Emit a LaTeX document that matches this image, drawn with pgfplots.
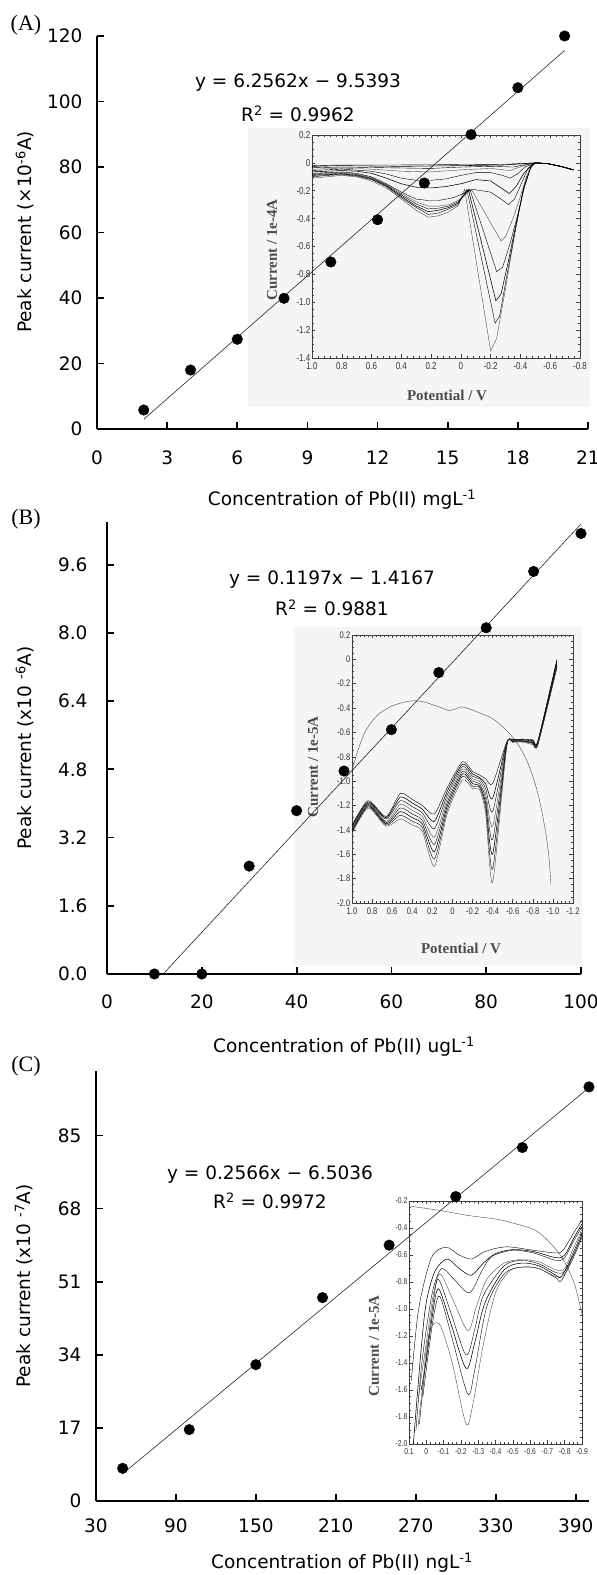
\documentclass[border=0pt]{standalone}
\usepackage{pgfplots}
\pgfplotsset{compat=1.18}
\usepackage{fontspec}
\setmainfont{DejaVu Sans}
\newfontfamily\tnr{Liberation Serif}
\newfontfamily\nar[FakeStretch=0.8]{Liberation Sans}

\pgfplotsset{
  mainax/.style={
    scale only axis, anchor=south west, clip=false,
    axis x line=bottom, axis y line=left,
    axis line style={-, line width=2.2pt},
    tick align=inside, major tick length=7pt,
    tick style={black, line width=1.8pt},
    tick label style={font=\fontsize{18.5}{20}\selectfont},
    /pgf/number format/assume math mode=true,
  },
  inset/.style={
    scale only axis, anchor=south west, x dir=reverse,
    axis line style={black!75, line width=0.6pt},
    tick align=inside, major tick length=3.5pt, minor tick length=2pt,
    tick style={black!75, line width=0.5pt},
    xtick pos=both, ytick pos=both, xticklabel pos=lower, yticklabel pos=left,
    tick label style={font=\nar\fontsize{10}{11}\selectfont, text=black!80, inner sep=1.5pt},
    xticklabel style={yshift=-3pt},
    minor x tick num=4, minor y tick num=3,
    cycle list={{black!70, solid, line width=0.55pt, no marks}},
  },
  pts/.style={only marks, mark=*, mark size=5.3pt, black},
  fit/.style={black!85, line width=0.6pt, no marks},
}
\newcommand\lab{\fontsize{18.5}{20}\selectfont}
\newcommand\ilab{\tnr\bfseries\fontsize{15}{16}\selectfont\color{black!70}}

\begin{document}
\begin{tikzpicture}[x=1pt,y=1pt]
\path[use as bounding box] (0,0) rectangle (597,1575);
\fill[black!4] (248,1168) rectangle (590,1447);
\fill[black!4] (294,610) rectangle (582,948);

% ---------- inset A
\begin{axis}[inset, at={(312pt,1217pt)}, width=268pt, height=223pt,
  xmin=-0.8, xmax=1.0, ymin=-1.4, ymax=0.2,
  xtick={-0.8,-0.6,-0.4,-0.2,0,0.2,0.4,0.6,0.8,1.0},
  xticklabels={-0.8,-0.6,-0.4,-0.2,0,0.2,0.4,0.6,0.8,1.0},
  ytick={-1.4,-1.2,-1.0,-0.8,-0.6,-0.4,-0.2,0,0.2},
  yticklabels={-1.4,-1.2,-1.0,-0.8,-0.6,-0.4,-0.2,0,0.2}]
\addplot coordinates {(1.0,-0.11)(0.9,-0.10)(0.8,-0.09)(0.7,-0.10)(0.6,-0.13)(0.5,-0.18)(0.4,-0.26)(0.3,-0.34)(0.22,-0.39)(0.15,-0.38)(0.08,-0.35)(0.02,-0.31)(-0.025,-0.19)(-0.2,-1.35)(-0.24,-1.26)(-0.3,-0.90)(-0.36,-0.52)(-0.42,-0.18)(-0.46,-0.04)(-0.5,0.0)(-0.58,-0.005)(-0.67,-0.025)(-0.755,-0.05)};
\addplot coordinates {(1.0,-0.10)(0.9,-0.09)(0.8,-0.085)(0.7,-0.095)(0.6,-0.12)(0.5,-0.17)(0.4,-0.25)(0.3,-0.32)(0.22,-0.37)(0.15,-0.36)(0.08,-0.33)(0.02,-0.30)(-0.04,-0.19)(-0.23,-1.15)(-0.26,-1.10)(-0.31,-0.80)(-0.37,-0.46)(-0.42,-0.19)(-0.47,-0.03)(-0.5,0.0)(-0.58,-0.005)(-0.67,-0.025)(-0.755,-0.05)};
\addplot coordinates {(1.0,-0.09)(0.9,-0.085)(0.8,-0.08)(0.7,-0.09)(0.6,-0.115)(0.5,-0.165)(0.4,-0.24)(0.3,-0.31)(0.22,-0.35)(0.15,-0.34)(0.08,-0.32)(0.02,-0.29)(-0.05,-0.19)(-0.235,-0.99)(-0.27,-0.94)(-0.32,-0.70)(-0.37,-0.44)(-0.42,-0.19)(-0.47,-0.03)(-0.5,0.0)(-0.58,-0.005)(-0.67,-0.025)(-0.755,-0.05)};
\addplot coordinates {(1.0,-0.085)(0.9,-0.08)(0.8,-0.075)(0.7,-0.085)(0.6,-0.11)(0.5,-0.16)(0.4,-0.23)(0.3,-0.295)(0.22,-0.33)(0.15,-0.325)(0.08,-0.31)(0.02,-0.28)(-0.06,-0.19)(-0.24,-0.78)(-0.28,-0.75)(-0.33,-0.58)(-0.38,-0.38)(-0.43,-0.16)(-0.47,-0.03)(-0.5,0.0)(-0.58,-0.005)(-0.67,-0.025)(-0.755,-0.05)};
\addplot coordinates {(1.0,-0.08)(0.9,-0.075)(0.8,-0.07)(0.7,-0.08)(0.6,-0.105)(0.5,-0.155)(0.4,-0.22)(0.3,-0.28)(0.22,-0.31)(0.15,-0.31)(0.08,-0.30)(0.02,-0.27)(-0.07,-0.19)(-0.27,-0.56)(-0.30,-0.53)(-0.35,-0.40)(-0.40,-0.24)(-0.44,-0.10)(-0.48,-0.02)(-0.5,0.0)(-0.58,-0.005)(-0.67,-0.025)(-0.755,-0.05)};
\addplot coordinates {(1.0,-0.075)(0.9,-0.07)(0.8,-0.065)(0.7,-0.075)(0.6,-0.10)(0.5,-0.15)(0.4,-0.21)(0.3,-0.26)(0.22,-0.27)(0.15,-0.27)(0.05,-0.25)(-0.08,-0.19)(-0.2,-0.21)(-0.27,-0.26)(-0.32,-0.30)(-0.36,-0.26)(-0.41,-0.14)(-0.45,-0.04)(-0.5,0.0)(-0.58,-0.005)(-0.67,-0.025)(-0.755,-0.05)};
\addplot coordinates {(1.0,-0.065)(0.9,-0.06)(0.8,-0.055)(0.7,-0.06)(0.6,-0.075)(0.5,-0.11)(0.4,-0.15)(0.3,-0.175)(0.2,-0.18)(0.1,-0.17)(0.0,-0.15)(-0.1,-0.12)(-0.2,-0.13)(-0.27,-0.18)(-0.325,-0.22)(-0.37,-0.17)(-0.42,-0.08)(-0.47,-0.02)(-0.5,0.0)(-0.58,-0.005)(-0.67,-0.025)(-0.755,-0.05)};
\addplot coordinates {(1.0,-0.055)(0.9,-0.05)(0.8,-0.045)(0.6,-0.06)(0.5,-0.08)(0.4,-0.11)(0.3,-0.125)(0.2,-0.125)(0.1,-0.115)(0.0,-0.09)(-0.1,-0.07)(-0.2,-0.07)(-0.28,-0.09)(-0.33,-0.11)(-0.38,-0.08)(-0.43,-0.03)(-0.5,0.0)(-0.58,-0.005)(-0.67,-0.025)(-0.755,-0.05)};
\addplot coordinates {(1.0,-0.045)(0.8,-0.04)(0.6,-0.045)(0.4,-0.06)(0.2,-0.065)(0.0,-0.05)(-0.2,-0.04)(-0.33,-0.055)(-0.42,-0.02)(-0.5,0.0)(-0.58,-0.005)(-0.67,-0.025)(-0.755,-0.05)};
\addplot coordinates {(1.0,-0.035)(0.8,-0.03)(0.5,-0.035)(0.2,-0.04)(0.0,-0.03)(-0.2,-0.025)(-0.35,-0.03)(-0.45,-0.01)(-0.5,0.0)(-0.58,-0.005)(-0.67,-0.025)(-0.755,-0.05)};
\addplot coordinates {(1.0,-0.025)(0.8,-0.02)(0.4,-0.025)(0.0,-0.02)(-0.3,-0.015)(-0.5,0.0)(-0.58,-0.005)(-0.67,-0.025)(-0.755,-0.05)};
\addplot coordinates {(1.0,-0.02)(0.8,-0.015)(0.4,-0.015)(0.0,-0.012)(-0.3,-0.01)(-0.5,0.0)(-0.58,-0.005)(-0.67,-0.025)(-0.755,-0.05)};
\end{axis}
\node[rotate=90] at (272,1325) {\ilab Current / 1e-4A};
\node at (447,1180) {\ilab Potential / V};

% ---------- main A
\begin{axis}[mainax, at={(97pt,1146pt)}, width=491pt, height=393pt,
  xmin=0, xmax=21, ymin=0, ymax=120,
  xtick={0,3,...,21}, ytick={0,20,...,120},
  xticklabel style={yshift=-18pt}, yticklabel style={xshift=-11pt}]
\addplot[fit] coordinates {(2,2.97)(20,115.59)};
\addplot[pts] coordinates {(2,5.8)(4,18.0)(6,27.4)(8,39.9)(10,51.0)(12,63.9)(14,75.1)(16,89.9)(18,104.2)(20,120.0)};
\end{axis}
\node at (26,1550) {\tnr\fontsize{22}{24}\selectfont (A)};
\node at (298,1492) {\lab y = 6.2562x − 9.5393};
\node at (298,1461) {\lab R\textsuperscript{2} = 0.9962};
\node[rotate=90] at (25,1343) {\lab Peak current (×10\textsuperscript{-6}A)};
\node at (342,1075) {\lab Concentration of Pb(II) mgL\textsuperscript{-1}};

% ---------- inset B
\begin{axis}[inset, at={(352pt,672pt)}, width=221pt, height=268pt,
  xmin=-1.2, xmax=1.0, ymin=-2.0, ymax=0.2,
  xtick={-1.2,-1.0,-0.8,-0.6,-0.4,-0.2,0,0.2,0.4,0.6,0.8,1.0},
  xticklabels={-1.2,-1.0,-0.8,-0.6,-0.4,-0.2,0,0.2,0.4,0.6,0.8,1.0},
  ytick={-2.0,-1.8,-1.6,-1.4,-1.2,-1.0,-0.8,-0.6,-0.4,-0.2,0,0.2},
  yticklabels={-2.0,-1.8,-1.6,-1.4,-1.2,-1.0,-0.8,-0.6,-0.4,-0.2,0,0.2},
  tick label style={font=\nar\fontsize{9.5}{10}\selectfont},
  every axis plot/.append style={smooth, tension=0.4}]
\addplot coordinates {(1.0,-0.91)(0.93,-0.72)(0.86,-0.58)(0.75,-0.46)(0.62,-0.39)(0.5,-0.355)(0.39,-0.34)(0.28,-0.35)(0.19,-0.375)(0.1,-0.40)(0.04,-0.42)(-0.02,-0.41)(-0.09,-0.39)(-0.18,-0.41)(-0.27,-0.44)(-0.36,-0.47)(-0.44,-0.51)(-0.52,-0.57)(-0.6,-0.64)(-0.67,-0.72)(-0.74,-0.83)(-0.8,-0.96)(-0.85,-1.10)(-0.89,-1.25)(-0.93,-1.43)(-0.96,-1.62)(-0.98,-1.84)};
\addplot coordinates {(1.0,-1.36)(0.84,-1.16)(0.66,-1.29)(0.52,-1.10)(0.4,-1.15)(0.3,-1.20)(0.18,-1.27)(0.05,-1.05)(-0.1,-0.84)(-0.2,-0.92)(-0.27,-0.95)(-0.33,-0.98)(-0.4,-1.02)(-0.54,-0.68)(-0.6,-0.66)(-0.7,-0.655)(-0.8,-0.66)(-0.85,-0.67)(-1.04,0.0)};
\addplot coordinates {(1.0,-1.37)(0.84,-1.17)(0.66,-1.30)(0.52,-1.13)(0.4,-1.18)(0.3,-1.23)(0.18,-1.33)(0.05,-1.08)(-0.1,-0.86)(-0.2,-0.94)(-0.27,-0.97)(-0.33,-1.02)(-0.4,-1.14)(-0.54,-0.685)(-0.6,-0.66)(-0.7,-0.66)(-0.8,-0.665)(-0.85,-0.675)(-1.04,-0.01)};
\addplot coordinates {(1.0,-1.38)(0.84,-1.18)(0.66,-1.31)(0.52,-1.16)(0.4,-1.21)(0.3,-1.26)(0.18,-1.39)(0.05,-1.11)(-0.1,-0.88)(-0.2,-0.96)(-0.27,-0.98)(-0.33,-1.06)(-0.4,-1.25)(-0.54,-0.69)(-0.6,-0.665)(-0.7,-0.66)(-0.8,-0.67)(-0.85,-0.68)(-1.04,-0.02)};
\addplot coordinates {(1.0,-1.39)(0.84,-1.18)(0.66,-1.33)(0.52,-1.19)(0.4,-1.24)(0.3,-1.29)(0.18,-1.46)(0.05,-1.14)(-0.1,-0.90)(-0.2,-0.98)(-0.27,-1.00)(-0.33,-1.10)(-0.4,-1.37)(-0.54,-0.695)(-0.6,-0.67)(-0.7,-0.665)(-0.8,-0.675)(-0.85,-0.685)(-1.04,-0.03)};
\addplot coordinates {(1.0,-1.40)(0.84,-1.19)(0.66,-1.34)(0.52,-1.22)(0.4,-1.27)(0.3,-1.32)(0.18,-1.52)(0.05,-1.17)(-0.1,-0.92)(-0.2,-1.00)(-0.27,-1.02)(-0.33,-1.14)(-0.4,-1.48)(-0.54,-0.70)(-0.6,-0.67)(-0.7,-0.67)(-0.8,-0.68)(-0.85,-0.69)(-1.04,-0.04)};
\addplot coordinates {(1.0,-1.41)(0.84,-1.20)(0.66,-1.35)(0.52,-1.25)(0.4,-1.30)(0.3,-1.35)(0.18,-1.58)(0.05,-1.20)(-0.1,-0.94)(-0.2,-1.02)(-0.27,-1.04)(-0.33,-1.18)(-0.4,-1.60)(-0.54,-0.705)(-0.6,-0.675)(-0.7,-0.67)(-0.8,-0.685)(-0.85,-0.695)(-1.04,-0.05)};
\addplot coordinates {(1.0,-1.42)(0.84,-1.21)(0.66,-1.36)(0.52,-1.28)(0.4,-1.33)(0.3,-1.38)(0.18,-1.64)(0.05,-1.23)(-0.1,-0.96)(-0.2,-1.04)(-0.27,-1.05)(-0.33,-1.22)(-0.4,-1.72)(-0.54,-0.71)(-0.6,-0.68)(-0.7,-0.675)(-0.8,-0.69)(-0.85,-0.70)(-1.04,-0.06)};
\addplot coordinates {(1.0,-1.43)(0.84,-1.22)(0.66,-1.37)(0.52,-1.31)(0.4,-1.36)(0.3,-1.41)(0.18,-1.70)(0.05,-1.26)(-0.1,-0.99)(-0.2,-1.06)(-0.27,-1.07)(-0.33,-1.26)(-0.4,-1.83)(-0.54,-0.715)(-0.6,-0.68)(-0.7,-0.68)(-0.8,-0.70)(-0.85,-0.70)(-1.04,-0.07)};
\end{axis}
\node[rotate=90] at (313,808) {\ilab Current / 1e-5A};
\node at (461,627) {\ilab Potential / V};

% ---------- main B
\begin{axis}[mainax, at={(107pt,601pt)}, width=474pt, height=452pt,
  xmin=0, xmax=100, ymin=0, ymax=10.6,
  xtick={0,20,...,100}, ytick={0,1.6,3.2,4.8,6.4,8.0,9.6},
  yticklabels={0.0,1.6,3.2,4.8,6.4,8.0,9.6},
  xticklabel style={yshift=-17pt}, yticklabel style={xshift=-16pt}]
\addplot[fit] coordinates {(11.84,0)(100,10.553)};
\addplot[pts] coordinates {(10,0)(20,0)(30,2.53)(40,3.83)(50,4.76)(60,5.73)(70,7.07)(80,8.12)(90,9.44)(100,10.33)};
\end{axis}
\node at (26,1056) {\tnr\fontsize{22}{24}\selectfont (B)};
\node at (332,995) {\lab y = 0.1197x − 1.4167};
\node at (332,967) {\lab R\textsuperscript{2} = 0.9881};
\node[rotate=90] at (25,827) {\lab Peak current (x10 \textsuperscript{-6}A)};
\node at (344,528) {\lab Concentration of Pb(II) ugL\textsuperscript{-1}};

% ---------- inset C
\begin{axis}[inset, at={(409pt,131pt)}, width=173pt, height=243pt,
  xmin=-0.9, xmax=0.1, ymin=-2.0, ymax=-0.2,
  xtick={-0.9,-0.8,-0.7,-0.6,-0.5,-0.4,-0.3,-0.2,-0.1,0,0.1},
  xticklabels={-0.9,-0.8,-0.7,-0.6,-0.5,-0.4,-0.3,-0.2,-0.1,0,0.1},
  ytick={-2.0,-1.8,-1.6,-1.4,-1.2,-1.0,-0.8,-0.6,-0.4,-0.2},
  yticklabels={-2.0,-1.8,-1.6,-1.4,-1.2,-1.0,-0.8,-0.6,-0.4,-0.2},
  minor x tick num=3,
  tick label style={font=\nar\fontsize{8.5}{9}\selectfont},
  every axis plot/.append style={smooth, tension=0.5}]
\addplot coordinates {(0.087,-0.24)(0.0,-0.255)(-0.1,-0.275)(-0.23,-0.305)(-0.32,-0.32)(-0.42,-0.338)(-0.52,-0.37)(-0.62,-0.41)(-0.675,-0.46)(-0.73,-0.53)(-0.79,-0.63)(-0.84,-0.76)(-0.867,-0.86)(-0.9,-1.04)};
\addplot coordinates {(0.087,-1.53)(0.05,-1.05)(0.01,-0.79)(-0.03,-0.62)(-0.07,-0.56)(-0.125,-0.545)(-0.19,-0.60)(-0.26,-0.63)(-0.33,-0.58)(-0.405,-0.55)(-0.48,-0.54)(-0.62,-0.565)(-0.75,-0.585)(-0.79,-0.565)(-0.85,-0.44)(-0.9,-0.34)};
\addplot coordinates {(0.075,-2.0)(0.03,-1.3)(0.0,-0.95)(-0.05,-0.72)(-0.12,-0.63)(-0.19,-0.70)(-0.26,-0.75)(-0.33,-0.66)(-0.4,-0.59)(-0.5,-0.56)(-0.62,-0.575)(-0.75,-0.62)(-0.8,-0.60)(-0.85,-0.48)(-0.9,-0.37)};
\addplot coordinates {(0.06,-1.9)(0.03,-1.45)(0.0,-1.15)(-0.04,-0.85)(-0.09,-0.70)(-0.16,-0.78)(-0.25,-0.88)(-0.32,-0.72)(-0.38,-0.61)(-0.5,-0.565)(-0.62,-0.585)(-0.75,-0.64)(-0.8,-0.62)(-0.85,-0.50)(-0.9,-0.39)};
\addplot coordinates {(0.045,-1.65)(0.0,-1.25)(-0.04,-0.90)(-0.08,-0.74)(-0.15,-0.92)(-0.24,-1.16)(-0.29,-0.98)(-0.35,-0.78)(-0.45,-0.66)(-0.55,-0.635)(-0.65,-0.65)(-0.75,-0.71)(-0.8,-0.70)(-0.85,-0.55)(-0.9,-0.41)};
\addplot coordinates {(0.04,-1.85)(0.0,-1.35)(-0.04,-0.95)(-0.07,-0.78)(-0.14,-1.02)(-0.23,-1.34)(-0.28,-1.15)(-0.33,-0.90)(-0.45,-0.68)(-0.55,-0.64)(-0.65,-0.665)(-0.75,-0.73)(-0.8,-0.72)(-0.85,-0.58)(-0.9,-0.43)};
\addplot coordinates {(0.03,-1.6)(0.0,-1.38)(-0.035,-1.05)(-0.07,-0.85)(-0.14,-1.10)(-0.23,-1.44)(-0.28,-1.25)(-0.34,-0.95)(-0.45,-0.71)(-0.55,-0.66)(-0.65,-0.68)(-0.75,-0.75)(-0.78,-0.76)(-0.85,-0.60)(-0.9,-0.45)};
\addplot coordinates {(0.02,-1.65)(-0.02,-1.25)(-0.05,-1.00)(-0.08,-0.91)(-0.15,-1.22)(-0.24,-1.63)(-0.28,-1.45)(-0.35,-0.98)(-0.45,-0.74)(-0.55,-0.69)(-0.65,-0.70)(-0.75,-0.77)(-0.78,-0.79)(-0.85,-0.62)(-0.9,-0.47)};
\addplot coordinates {(0.048,-1.87)(0.02,-1.55)(0.0,-1.30)(-0.03,-1.13)(-0.08,-1.12)(-0.15,-1.40)(-0.23,-1.85)(-0.27,-1.70)(-0.33,-1.26)(-0.4,-0.88)(-0.48,-0.72)(-0.55,-0.69)(-0.65,-0.70)(-0.75,-0.76)(-0.8,-0.74)(-0.85,-0.60)(-0.9,-0.46)};
\end{axis}
\node[rotate=90] at (374,229) {\ilab Current / 1e-5A};

% ---------- main C
\begin{axis}[mainax, at={(96pt,74pt)}, width=493pt, height=430pt,
  xmin=30, xmax=400, ymin=0, ymax=100,
  xtick={30,90,...,390}, ytick={0,17,34,51,68,85},
  xticklabel style={yshift=-14pt}, yticklabel style={xshift=-11pt}]
\addplot[fit] coordinates {(50,6.33)(400,96.14)};
\addplot[pts] coordinates {(50,7.6)(100,16.6)(150,31.7)(200,47.3)(250,59.5)(300,70.8)(350,82.2)(400,96.3)};
\end{axis}
\node at (26,509) {\tnr\fontsize{22}{24}\selectfont (C)};
\node at (270,400) {\lab y = 0.2566x − 6.5036};
\node at (270,374) {\lab R\textsuperscript{2} = 0.9972};
\node[rotate=90] at (24,289) {\lab Peak current (x10 \textsuperscript{-7}A)};
\node at (342,12) {\lab Concentration of Pb(II) ngL\textsuperscript{-1}};
\end{tikzpicture}
\end{document}
